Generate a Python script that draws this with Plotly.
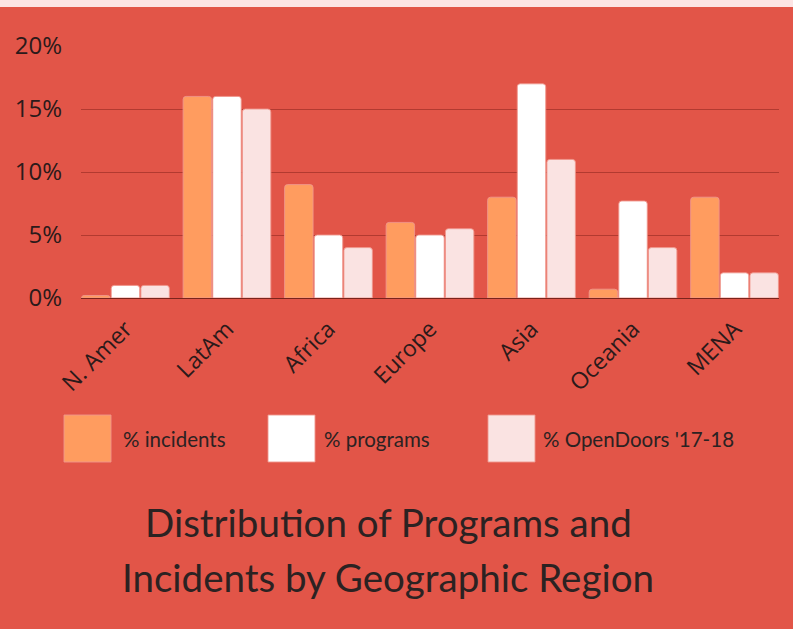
import plotly.graph_objects as go

categories = ["N. Amer", "LatAm", "Africa", "Europe", "Asia", "Oceania", "MENA"]
incidents = [0.2, 16, 9, 6, 8, 0.7, 8]
programs = [1, 16, 5, 5, 17, 7.7, 2]
opendoors = [1, 15, 4, 5.5, 11, 4, 2]
series_names = ["% incidents", "% programs", "% OpenDoors '17-18"]
series_colors = ["#ff9c5f", "#ffffff", "#fae3e2"]
y_ticks = [0, 5, 10, 15, 20]
y_tick_labels = ["0%", "5%", "10%", "15%", "20%"]
title_lines = ["Distribution of Programs and", "Incidents by Geographic Region"]

BG = "#e25548"
W, H = 793, 629
L, R, T, B = 81, 14, 46, 331
pw, ph = W - L - R, H - T - B
BARGAP = 0.124

def px_x(x):
    return (x - L) / pw

def px_y(y):
    return (H - B - y) / ph

fig = go.Figure()
for name, vals, col in zip(series_names, [incidents, programs, opendoors], series_colors):
    fig.add_trace(go.Bar(
        x=categories, y=vals, name=name,
        marker=dict(color=col, line=dict(color="rgba(240,150,140,0.9)", width=1), cornerradius=3),
        showlegend=False,
    ))

shapes = [
    dict(type="rect", xref="paper", yref="paper", x0=px_x(-5), x1=px_x(W + 5),
         y0=px_y(7), y1=px_y(-2), fillcolor="#fce4e4", line=dict(width=0), layer="below"),
]
annotations = []
legend_boxes = [(64, 121), (268, 322), (488, 541)]
for (bx, tx), name, col in zip(legend_boxes, series_names, series_colors):
    shapes.append(dict(type="rect", xref="paper", yref="paper",
                       x0=px_x(bx), x1=px_x(bx + 47), y0=px_y(462), y1=px_y(415),
                       fillcolor=col, line=dict(color="rgba(240,150,140,0.9)", width=1)))
    annotations.append(dict(text=name, xref="paper", yref="paper", x=px_x(tx), y=px_y(439),
                            xanchor="left", yanchor="middle", showarrow=False,
                            font=dict(family="Lato", size=20.5, color="#2b2222")))
for i, line in enumerate(title_lines):
    annotations.append(dict(text=line, xref="paper", yref="paper", x=px_x(388), y=px_y(522 + 55 * i),
                            xanchor="center", yanchor="middle", showarrow=False,
                            font=dict(family="Lato", size=38.5, color="#2b2222")))

n = len(categories)
fig.update_layout(
    width=W, height=H,
    margin=dict(l=L, r=R, t=T, b=B, pad=0),
    paper_bgcolor=BG, plot_bgcolor=BG,
    barmode="group", bargap=BARGAP, bargroupgap=0.04,
    shapes=shapes, annotations=annotations,
    xaxis=dict(tickangle=-45, tickfont=dict(family="Open Sans", size=23, color="#2b1a1a"),
               range=[-0.5 + BARGAP / 2, n - 0.5 - BARGAP / 2],
               showgrid=False, showline=False, ticks="", ticklabelstandoff=12),
    yaxis=dict(range=[0, 20], tickvals=y_ticks, ticktext=y_tick_labels,
               tickfont=dict(family="Open Sans", size=24, color="#2b1a1a"),
               gridcolor="#b23a30", gridwidth=1, zeroline=True, zerolinecolor="#7a241c",
               zerolinewidth=1, ticklabelstandoff=18, showline=False),
)

fig.write_html("out.html", config={"displayModeBar": False},
               post_script="document.body.style.margin='0';")
